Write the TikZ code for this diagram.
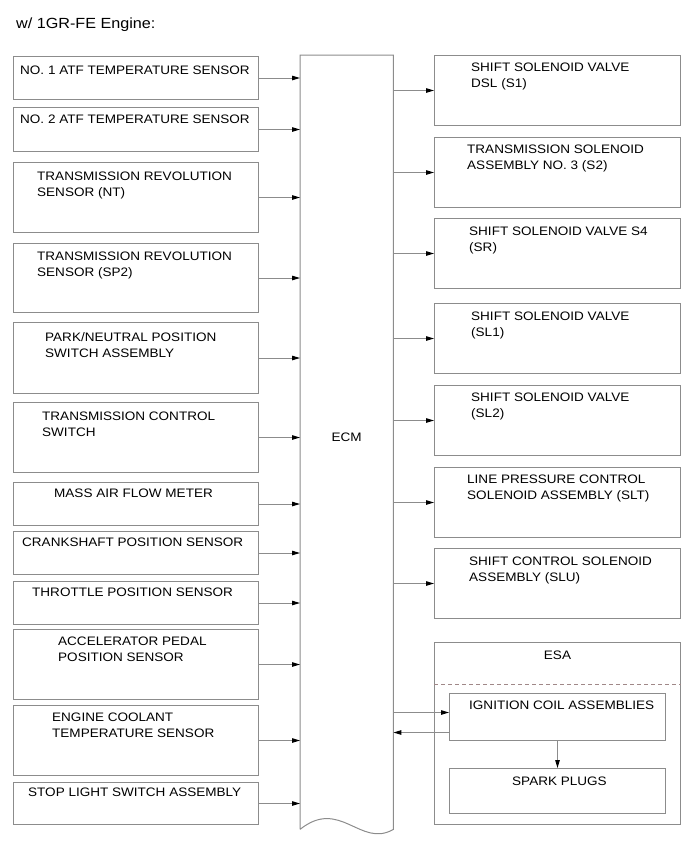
\documentclass[tikz,border=0pt]{standalone}
\usepackage{fontspec}
\setmainfont{Liberation Sans}[FakeStretch=1.1]
\usetikzlibrary{arrows.meta,positioning,calc}
\definecolor{Edge}{HTML}{8C8C8C}
\definecolor{DashRed}{HTML}{A08888}

\begin{document}
\begin{tikzpicture}[x=1pt,y=-1pt,
    box/.style={rectangle,draw=Edge,line width=1pt,anchor=north west,inner sep=0pt,minimum width=245pt},
    outbox/.style={box,minimum width=246pt,minimum height=70pt},
    txt/.style={anchor=north west,inner sep=0pt,align=left,font=\fontsize{12.3}{16}\selectfont},
    arrow/.style={-{Triangle[length=8pt,width=4.5pt,color=black]},draw=Edge,line width=1pt}
]
\useasboundingbox (0,0) rectangle (691,855);
\node[anchor=north west,inner sep=0pt,font=\fontsize{14.7}{17}\selectfont] (title) at (16,18) {w/ 1GR-FE Engine:};

% ECM
\node[inner sep=0pt,minimum width=93pt,minimum height=774pt,anchor=north west] (ecm) at (300,55) {};
\draw[draw=Edge,line width=1pt] (ecm.south west) -- (ecm.north west) -- (ecm.north east) -- (ecm.south east)
    .. controls +(-33,19) and +(40,-32) .. (ecm.south west);
\node[font=\fontsize{12.3}{16}\selectfont] (ecmlbl) at ([yshift=5pt]ecm.center) {ECM};

% inputs
\node[box,minimum height=43pt] (l1) at (13,56) {};
\node[box,minimum height=44pt] (l2) at (13,107) {};
\node[box,minimum height=70pt] (l3) at (13,162) {};
\node[box,minimum height=69pt] (l4) at (13,243) {};
\node[box,minimum height=71pt] (l5) at (13,322) {};
\node[box,minimum height=70pt] (l6) at (13,402) {};
\node[box,minimum height=43pt] (l7) at (13,482) {};
\node[box,minimum height=43pt] (l8) at (13,531) {};
\node[box,minimum height=43pt] (l9) at (13,581) {};
\node[box,minimum height=70pt] (l10) at (13,629) {};
\node[box,minimum height=70pt] (l11) at (13,705) {};
\node[box,minimum height=42pt] (l12) at (13,782) {};

\node[txt,below right=10pt and 7pt of l1.north west] (t1) {NO. 1 ATF TEMPERATURE SENSOR};
\node[txt,below right=8pt and 7pt of l2.north west] (t2) {NO. 2 ATF TEMPERATURE SENSOR};
\node[txt,below right=10pt and 24pt of l3.north west] (t3) {TRANSMISSION REVOLUTION\\SENSOR (NT)};
\node[txt,below right=9pt and 24pt of l4.north west] (t4) {TRANSMISSION REVOLUTION\\SENSOR (SP2)};
\node[txt,below right=10pt and 32pt of l5.north west] (t5) {PARK/NEUTRAL POSITION\\SWITCH ASSEMBLY};
\node[txt,below right=10pt and 29pt of l6.north west] (t6) {TRANSMISSION CONTROL\\SWITCH};
\node[txt,below right=7pt and 41pt of l7.north west] (t7) {MASS AIR FLOW METER};
\node[txt,below right=7pt and 9pt of l8.north west] (t8) {CRANKSHAFT POSITION SENSOR};
\node[txt,below right=7pt and 19pt of l9.north west] (t9) {THROTTLE POSITION SENSOR};
\node[txt,below right=8pt and 45pt of l10.north west] (t10) {ACCELERATOR PEDAL\\POSITION SENSOR};
\node[txt,below right=8pt and 39pt of l11.north west] (t11) {ENGINE COOLANT\\TEMPERATURE SENSOR};
\node[txt,below right=6pt and 15pt of l12.north west] (t12) {STOP LIGHT SWITCH ASSEMBLY};

\draw[arrow] (l1.east) -- (l1.east -| ecm.west);
\draw[arrow] (l2.east) -- (l2.east -| ecm.west);
\draw[arrow] (l3.east) -- (l3.east -| ecm.west);
\draw[arrow] (l4.east) -- (l4.east -| ecm.west);
\draw[arrow] (l5.east) -- (l5.east -| ecm.west);
\draw[arrow] (l6.east) -- (l6.east -| ecm.west);
\draw[arrow] (l7.east) -- (l7.east -| ecm.west);
\draw[arrow] (l8.east) -- (l8.east -| ecm.west);
\draw[arrow] (l9.east) -- (l9.east -| ecm.west);
\draw[arrow] (l10.east) -- (l10.east -| ecm.west);
\draw[arrow] (l11.east) -- (l11.east -| ecm.west);
\draw[arrow] (l12.east) -- (l12.east -| ecm.west);

% outputs
\node[outbox] (r1) at (434,55) {};
\node[outbox] (r2) at (434,137) {};
\node[outbox] (r3) at (434,218) {};
\node[outbox] (r4) at (434,303) {};
\node[outbox] (r5) at (434,385) {};
\node[outbox] (r6) at (434,467) {};
\node[outbox] (r7) at (434,548) {};

\node[txt,below right=8pt and 37pt of r1.north west] (s1) {SHIFT SOLENOID VALVE\\DSL (S1)};
\node[txt,below right=8pt and 33pt of r2.north west] (s2) {TRANSMISSION SOLENOID\\ASSEMBLY NO. 3 (S2)};
\node[txt,below right=9pt and 35pt of r3.north west] (s3) {SHIFT SOLENOID VALVE S4\\(SR)};
\node[txt,below right=9pt and 37pt of r4.north west] (s4) {SHIFT SOLENOID VALVE\\(SL1)};
\node[txt,below right=8pt and 37pt of r5.north west] (s5) {SHIFT SOLENOID VALVE\\(SL2)};
\node[txt,below right=8pt and 33pt of r6.north west] (s6) {LINE PRESSURE CONTROL\\SOLENOID ASSEMBLY (SLT)};
\node[txt,below right=9pt and 35pt of r7.north west] (s7) {SHIFT CONTROL SOLENOID\\ASSEMBLY (SLU)};

\draw[arrow] (r1.west -| ecm.east) -- (r1.west);
\draw[arrow] (r2.west -| ecm.east) -- (r2.west);
\draw[arrow] (r3.west -| ecm.east) -- (r3.west);
\draw[arrow] (r4.west -| ecm.east) -- (r4.west);
\draw[arrow] (r5.west -| ecm.east) -- (r5.west);
\draw[arrow] (r6.west -| ecm.east) -- (r6.west);
\draw[arrow] (r7.west -| ecm.east) -- (r7.west);

% ESA
\node[box,minimum width=246pt,minimum height=182pt] (esa) at (434,642) {};
\node[txt,anchor=north,below=9pt of esa.north] (esalbl) {ESA};
\draw[DashRed,line width=1pt,dash pattern=on 4pt off 3pt] ([yshift=-42pt]esa.north west) -- ([yshift=-42pt]esa.north east);
\node[box,minimum width=216pt,minimum height=47pt] (ign) at (449,693) {};
\node[box,minimum width=216pt,minimum height=45pt] (spark) at (449,768) {};
\node[txt,below right=8pt and 20pt of ign.north west] (igntxt) {IGNITION COIL ASSEMBLIES};
\node[txt,below right=9pt and 63pt of spark.north west] (sparktxt) {SPARK PLUGS};

\coordinate (igin) at ([yshift=4.5pt]ign.west);
\coordinate (igout) at ([yshift=-15.5pt]ign.west);
\draw[arrow] (igin -| ecm.east) -- (igin);
\draw[arrow] (igout) -- (igout -| ecm.east);
\draw[arrow] (ign.south) -- (spark.north);
\end{tikzpicture}
\end{document}
